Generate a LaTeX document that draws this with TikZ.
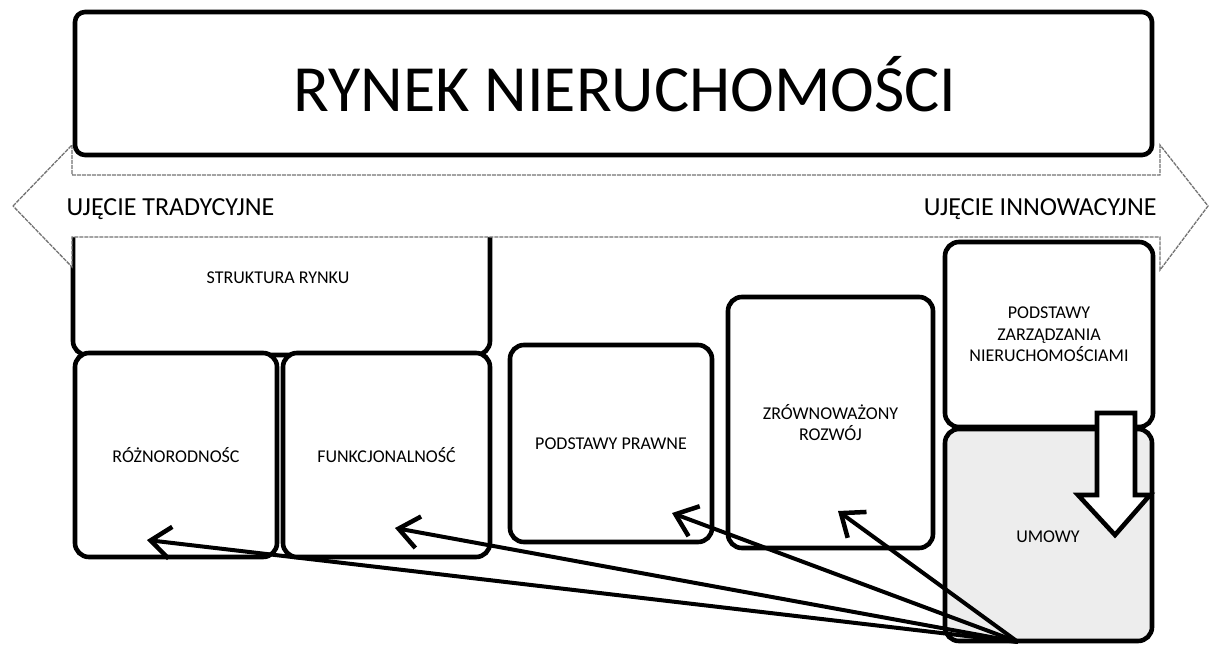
\documentclass[tikz,border=0pt]{standalone}
\usepackage{fontspec}
\setmainfont{Carlito}
\usetikzlibrary{arrows.meta}
\tikzset{
  box/.style={draw, line width=4.6pt, rounded corners=14pt, fill=white, inner sep=0pt},
  lbl/.style={font=\fontsize{18}{21.5}\selectfont, align=center},
  dblarrow/.style={draw=black!55, line width=1.3pt, dash pattern=on 4pt off 1pt, fill=white},
  blockarrow/.style={draw, line width=4.6pt, fill=white, line join=miter},
  link/.style={line width=4pt, -{Straight Barb[length=20pt,width=32pt,line width=4.5pt]}},
}
\begin{document}
\begin{tikzpicture}[x=1pt, y=-1pt]
\useasboundingbox (0,0) rectangle (1210,645);
% structure box (top hidden below the wide arrow)
\node[box, minimum width=417pt, minimum height=155pt] (strukt) at (281.5,277.5) {};
\node[lbl] (struktlbl) at (278,278) {STRUKTURA RYNKU};
% double-headed arrow
\draw[dblarrow] (13,206) -- (72,145) -- (72,175) -- (1160,175) -- (1160,145) -- (1208,206)
  -- (1160,270) -- (1160,237) -- (72,237) -- (72,267) -- cycle;
\node[anchor=base west, font=\fontsize{26}{30}\selectfont] (trad) at (63,215) {UJĘCIE TRADYCYJNE};
\node[anchor=base east, font=\fontsize{26}{30}\selectfont] (innow) at (1160,215) {UJĘCIE INNOWACYJNE};
% title
\node[box, rounded corners=10pt, minimum width=1077pt, minimum height=143pt] (title) at (613.5,83.5) {};
\node[font=\fontsize{66}{78}\selectfont] (titletext) at (625,84) {RYNEK NIERUCHOMOŚCI};
% lower boxes
\node[box, lbl, minimum width=202pt, minimum height=204pt] (roz) at (176,455) {RÓŻNORODNOŚC};
\node[box, lbl, minimum width=207pt, minimum height=204pt] (funk) at (386.5,455) {FUNKCJONALNOŚĆ};
\node[box, lbl, minimum width=202pt, minimum height=197pt] (prawne) at (611,443.5) {PODSTAWY PRAWNE};
\node[box, lbl, minimum width=205pt, minimum height=251pt] (zrow) at (830.5,422.5) {ZRÓWNOWAŻONY\\ROZWÓJ};
\node[box, lbl, minimum width=208pt, minimum height=185pt] (zarz) at (1049,334.5) {PODSTAWY\\ZARZĄDZANIA\\NIERUCHOMOŚCIAMI};
\node[box, lbl, fill=black!7, minimum width=207pt, minimum height=212pt] (umowy) at (1048.5,535) {};
\node[lbl] (umowylbl) at (1048,537) {UMOWY};
% block arrow from zarz to umowy
\draw[blockarrow] (1097,413) -- (1135,413) -- (1135,495) -- (1150,495) -- (1115,535)
  -- (1078,495) -- (1097,495) -- cycle;
% connectors
\coordinate (src) at (1018,642);
\coordinate (t1) at (147,540);
\coordinate (t2) at (395,528);
\coordinate (t3) at (672,513);
\coordinate (t4) at (838,511);
\draw[link] (src) -- (t1);
\draw[link] (src) -- (t2);
\draw[link] (src) -- (t3);
\draw[link] (src) -- (t4);
\end{tikzpicture}
\end{document}
